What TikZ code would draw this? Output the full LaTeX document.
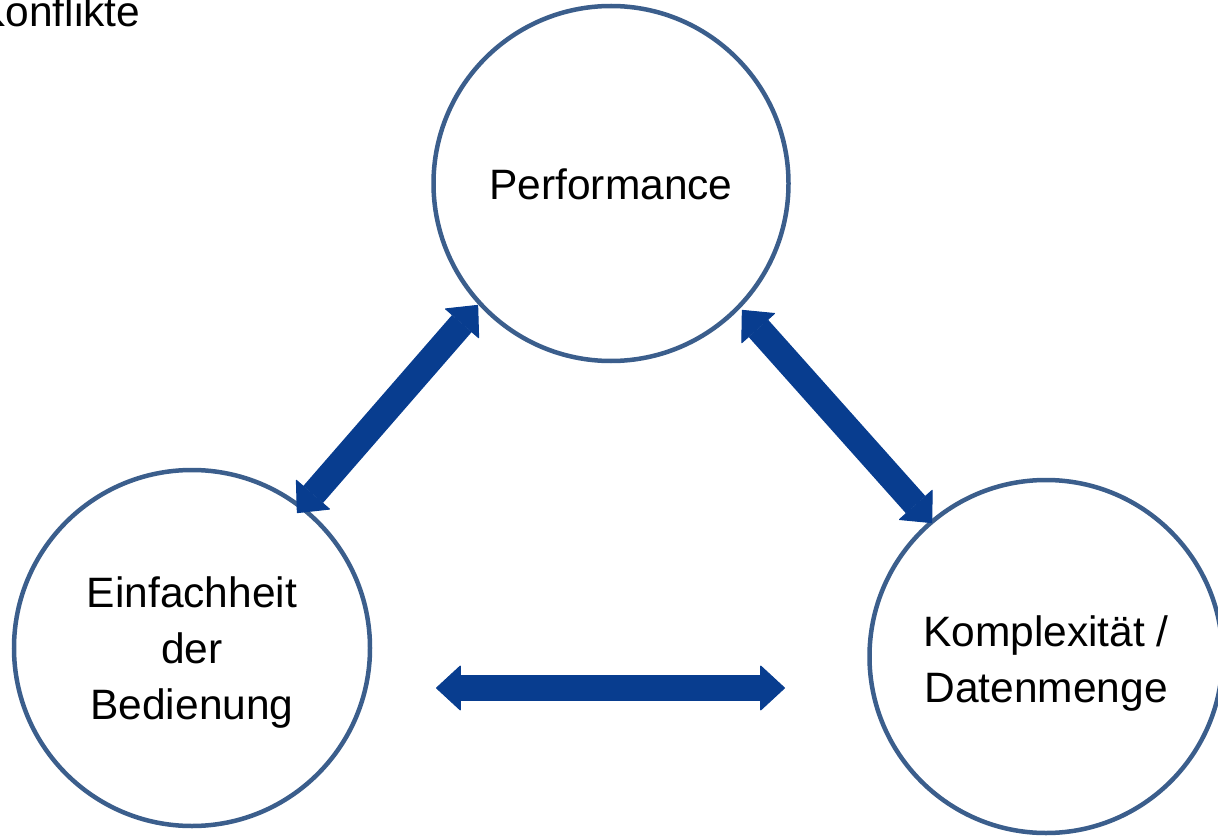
\documentclass[tikz,border=0pt]{standalone}
\usepackage{fontspec}
\setmainfont{Liberation Sans}
\usetikzlibrary{arrows.meta}
\definecolor{ringblue}{RGB}{59,94,140}
\definecolor{arrowblue}{RGB}{8,61,143}
\tikzset{
  ring/.style={circle, draw=ringblue, line width=4.5pt, inner sep=0pt},
  ringtext/.style={inner sep=0pt, align=center, font=\fontsize{42.5}{56}\selectfont},
  blockarrow/.style={draw=arrowblue, line width=26pt,
    {Triangle[width=46pt,length=25pt,line width=1pt,round]}-{Triangle[width=46pt,length=25pt,line width=1pt,round]}},
  heading/.style={inner sep=0pt, anchor=base west, font=\fontsize{42.5}{50}\selectfont}
}
\begin{document}
\begin{tikzpicture}[x=1pt,y=-1pt]
\useasboundingbox (0,0) rectangle (1218,837);
\node[heading] (title) at (-23,27) {Konflikte};
\node[ring, minimum size=355pt] (perf) at (611,183.5) {};
\node[ring, minimum size=356pt] (einf) at (192,648) {};
\node[ring, minimum size=353pt] (komp) at (1046,656.5) {};
\node[ringtext] (perftext) at (611,184.5) {Performance};
\node[ringtext] (einftext) at (192,653) {Einfachheit\\der\\Bedienung};
\node[ringtext] (komptext) at (1046,663.5) {Komplexität /\\Datenmenge};
\coordinate (a1) at (297,513);
\coordinate (a2) at (478,305);
\coordinate (b1) at (742,310);
\coordinate (b2) at (932,523);
\coordinate (c1) at (436,688);
\coordinate (c2) at (785,688);
\draw[blockarrow] (a1) -- (a2);
\draw[blockarrow] (b1) -- (b2);
\draw[blockarrow] (c1) -- (c2);
\end{tikzpicture}
\end{document}
